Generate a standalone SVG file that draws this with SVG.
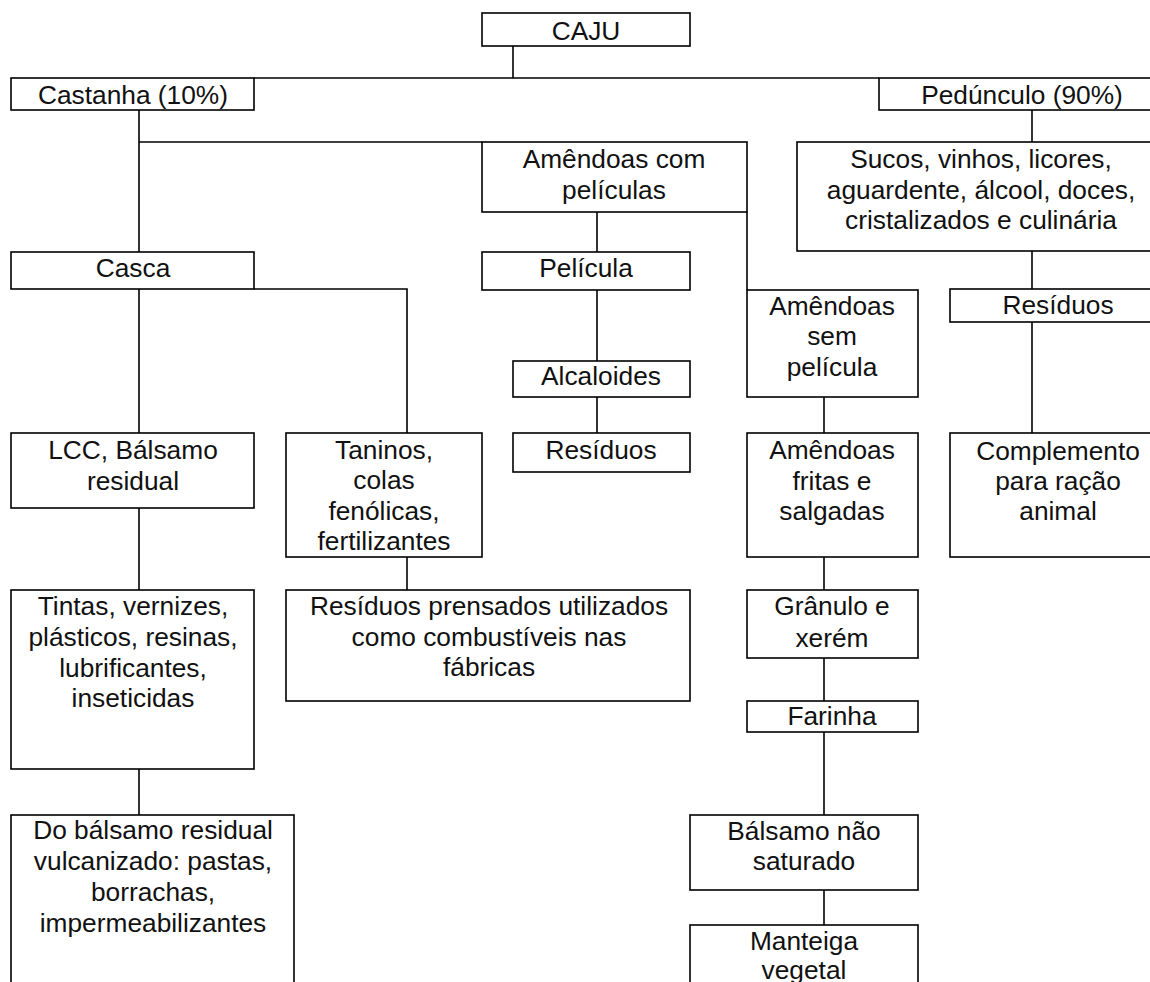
<svg xmlns="http://www.w3.org/2000/svg" width="1150" height="982" viewBox="0 0 1150 982">
<style>
rect{fill:#fff;stroke:#000;stroke-width:1.6}
line,polyline{stroke:#000;stroke-width:1.6;fill:none}
text{font-family:"Liberation Sans",Arial,sans-serif;font-size:26.3px;fill:#111;text-anchor:middle}
</style>
<rect x="0" y="0" width="1150" height="982" style="stroke:none"/>
<g id="connectors">
<line x1="513" y1="46" x2="513" y2="78"/>
<line x1="254" y1="78" x2="879" y2="78"/>
<line x1="139" y1="110" x2="139" y2="252"/>
<line x1="139" y1="142" x2="482" y2="142"/>
<line x1="1032" y1="110" x2="1032" y2="142"/>
<line x1="597" y1="212" x2="597" y2="252"/>
<line x1="747" y1="212" x2="747" y2="290"/>
<line x1="139" y1="289" x2="139" y2="433"/>
<polyline points="254,289 407,289 407,433"/>
<line x1="597" y1="290" x2="597" y2="361"/>
<line x1="597" y1="397" x2="597" y2="433"/>
<line x1="824" y1="397" x2="824" y2="433"/>
<line x1="824" y1="557" x2="824" y2="590"/>
<line x1="824" y1="658" x2="824" y2="701"/>
<line x1="824" y1="732" x2="824" y2="815"/>
<line x1="824" y1="890" x2="824" y2="925"/>
<line x1="1032" y1="251" x2="1032" y2="289"/>
<line x1="1032" y1="322" x2="1032" y2="433"/>
<line x1="139" y1="508" x2="139" y2="590"/>
<line x1="139" y1="769" x2="139" y2="815"/>
<line x1="407" y1="557" x2="407" y2="590"/>
</g>
<g id="caju"><rect x="482" y="13" width="208" height="33"/><text x="586" y="40">CAJU</text></g>
<g id="castanha"><rect x="11" y="78" width="243" height="32"/><text x="133" y="104">Castanha (10%)</text></g>
<g id="pedunculo"><rect x="879" y="78" width="287" height="32"/><text x="1022" y="104">Pedúnculo (90%)</text></g>
<g id="amendoas-com"><rect x="482" y="142" width="265" height="70"/><text x="614" y="168">Amêndoas com<tspan x="614" y="199">películas</tspan></text></g>
<g id="sucos"><rect x="797" y="142" width="369" height="109"/><text x="981" y="168">Sucos, vinhos, licores,<tspan x="981" y="199">aguardente, álcool, doces,</tspan><tspan x="981" y="229">cristalizados e culinária</tspan></text></g>
<g id="casca"><rect x="11" y="252" width="243" height="37"/><text x="133" y="277">Casca</text></g>
<g id="pelicula"><rect x="482" y="252" width="208" height="38"/><text x="586" y="277">Película</text></g>
<g id="amendoas-sem"><rect x="747" y="290" width="171" height="107"/><text x="832" y="315">Amêndoas<tspan x="832" y="345">sem</tspan><tspan x="832" y="376">película</tspan></text></g>
<g id="residuos-r"><rect x="950" y="289" width="216" height="33"/><text x="1058" y="314">Resíduos</text></g>
<g id="alcaloides"><rect x="513" y="361" width="177" height="36"/><text x="601" y="385">Alcaloides</text></g>
<g id="residuos-m"><rect x="513" y="433" width="177" height="39"/><text x="601" y="459">Resíduos</text></g>
<g id="lcc"><rect x="11" y="433" width="243" height="75"/><text x="133" y="459">LCC, Bálsamo<tspan x="133" y="490">residual</tspan></text></g>
<g id="taninos"><rect x="286" y="433" width="196" height="124"/><text x="384" y="459">Taninos,<tspan x="384" y="489">colas</tspan><tspan x="384" y="520">fenólicas,</tspan><tspan x="384" y="550">fertilizantes</tspan></text></g>
<g id="fritas"><rect x="747" y="433" width="171" height="124"/><text x="832" y="459">Amêndoas<tspan x="832" y="490">fritas e</tspan><tspan x="832" y="520">salgadas</tspan></text></g>
<g id="complemento"><rect x="950" y="433" width="216" height="124"/><text x="1058" y="460">Complemento<tspan x="1058" y="490">para ração</tspan><tspan x="1058" y="520">animal</tspan></text></g>
<g id="tintas"><rect x="11" y="590" width="243" height="179"/><text x="133" y="615">Tintas, vernizes,<tspan x="133" y="646">plásticos, resinas,</tspan><tspan x="133" y="677">lubrificantes,</tspan><tspan x="133" y="707">inseticidas</tspan></text></g>
<g id="prensados"><rect x="286" y="590" width="404" height="111"/><text x="489" y="615">Resíduos prensados utilizados<tspan x="489" y="646">como combustíveis nas</tspan><tspan x="489" y="676">fábricas</tspan></text></g>
<g id="granulo"><rect x="747" y="590" width="171" height="68"/><text x="832" y="615">Grânulo e<tspan x="832" y="647">xerém</tspan></text></g>
<g id="farinha"><rect x="747" y="701" width="171" height="31"/><text x="832" y="725">Farinha</text></g>
<g id="do-balsamo"><rect x="11" y="815" width="283" height="180"/><text x="153" y="839">Do bálsamo residual<tspan x="153" y="870">vulcanizado: pastas,</tspan><tspan x="153" y="901">borrachas,</tspan><tspan x="153" y="932">impermeabilizantes</tspan></text></g>
<g id="balsamo"><rect x="690" y="815" width="228" height="75"/><text x="804" y="840">Bálsamo não<tspan x="804" y="870">saturado</tspan></text></g>
<g id="manteiga"><rect x="690" y="925" width="228" height="70"/><text x="804" y="950">Manteiga<tspan x="804" y="979">vegetal</tspan></text></g>
</svg>
